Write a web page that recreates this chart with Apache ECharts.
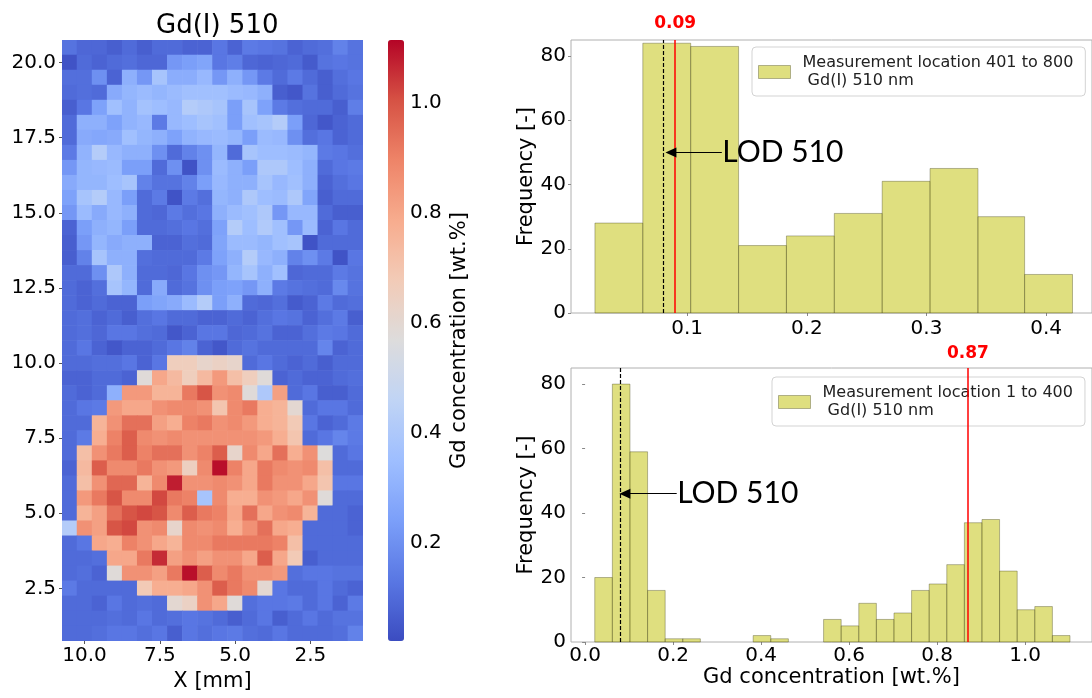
<!DOCTYPE html>
<html><head><meta charset="utf-8">
<script src="https://cdn.jsdelivr.net/npm/echarts@6/dist/echarts.min.js"></script>
<style>html,body{margin:0;padding:0;background:#fff}#c{width:1092px;height:698px}</style>
</head><body><div id="c"></div>
<script>
// ---------- data ----------
const xCenters = [10.5,10.0,9.5,9.0,8.5,8.0,7.5,7.0,6.5,6.0,5.5,5.0,4.5,4.0,3.5,3.0,2.5,2.0,1.5,1.0];
const yCenters = [20.5,20.0,19.5,19.0,18.5,18.0,17.5,17.0,16.5,16.0,15.5,15.0,14.5,14.0,13.5,13.0,12.5,12.0,11.5,11.0,
                  10.5,10.0,9.5,9.0,8.5,8.0,7.5,7.0,6.5,6.0,5.5,5.0,4.5,4.0,3.5,3.0,2.5,2.0,1.5,1.0];
// rows from top (y = 20.5) downwards, columns from x = 10.5 to x = 1.0
const gridLoc401to800 = [
[0.12,0.09,0.09,0.07,0.10,0.07,0.10,0.10,0.08,0.08,0.13,0.08,0.14,0.13,0.12,0.08,0.10,0.11,0.16,0.12],
[0.04,0.10,0.08,0.10,0.11,0.09,0.09,0.22,0.24,0.26,0.13,0.15,0.09,0.08,0.09,0.10,0.06,0.12,0.13,0.12],
[0.11,0.11,0.20,0.08,0.30,0.22,0.38,0.29,0.29,0.33,0.22,0.30,0.22,0.14,0.10,0.14,0.10,0.07,0.11,0.13],
[0.10,0.11,0.10,0.28,0.32,0.34,0.32,0.34,0.36,0.36,0.36,0.34,0.33,0.30,0.07,0.05,0.12,0.07,0.10,0.12],
[0.07,0.13,0.25,0.36,0.31,0.37,0.35,0.33,0.42,0.40,0.38,0.24,0.38,0.25,0.14,0.11,0.10,0.10,0.07,0.15],
[0.10,0.30,0.30,0.25,0.31,0.33,0.14,0.33,0.35,0.38,0.36,0.24,0.36,0.38,0.42,0.24,0.09,0.05,0.08,0.10],
[0.10,0.28,0.27,0.28,0.36,0.32,0.30,0.25,0.31,0.33,0.34,0.32,0.24,0.34,0.33,0.20,0.11,0.13,0.08,0.10],
[0.14,0.31,0.42,0.33,0.30,0.30,0.20,0.10,0.16,0.20,0.32,0.10,0.38,0.35,0.35,0.34,0.32,0.14,0.13,0.11],
[0.22,0.32,0.33,0.34,0.24,0.24,0.10,0.20,0.04,0.20,0.34,0.30,0.24,0.40,0.40,0.35,0.30,0.10,0.13,0.14],
[0.28,0.32,0.32,0.35,0.38,0.16,0.12,0.12,0.16,0.24,0.33,0.30,0.30,0.38,0.33,0.36,0.30,0.08,0.11,0.13],
[0.25,0.38,0.42,0.33,0.24,0.10,0.14,0.04,0.14,0.11,0.32,0.30,0.40,0.35,0.34,0.40,0.26,0.07,0.10,0.10],
[0.22,0.34,0.28,0.33,0.30,0.10,0.09,0.14,0.11,0.13,0.30,0.34,0.36,0.40,0.22,0.33,0.33,0.10,0.07,0.07],
[0.08,0.24,0.30,0.32,0.24,0.10,0.10,0.11,0.13,0.11,0.25,0.42,0.35,0.41,0.36,0.22,0.34,0.08,0.13,0.10],
[0.07,0.22,0.32,0.28,0.30,0.30,0.08,0.08,0.11,0.10,0.26,0.34,0.34,0.32,0.36,0.38,0.04,0.10,0.10,0.10],
[0.07,0.16,0.38,0.30,0.30,0.11,0.10,0.10,0.10,0.14,0.25,0.30,0.42,0.33,0.30,0.16,0.20,0.14,0.04,0.13],
[0.10,0.10,0.20,0.40,0.30,0.10,0.10,0.09,0.13,0.20,0.22,0.32,0.38,0.30,0.36,0.09,0.10,0.10,0.14,0.12],
[0.10,0.08,0.11,0.38,0.32,0.10,0.28,0.10,0.12,0.20,0.24,0.25,0.22,0.30,0.14,0.12,0.11,0.10,0.18,0.12],
[0.10,0.08,0.10,0.08,0.08,0.24,0.26,0.28,0.34,0.42,0.24,0.30,0.10,0.09,0.11,0.06,0.08,0.14,0.10,0.11],
[0.10,0.11,0.08,0.10,0.07,0.11,0.13,0.10,0.10,0.08,0.08,0.10,0.08,0.11,0.13,0.12,0.08,0.11,0.14,0.07],
[0.10,0.11,0.09,0.13,0.13,0.11,0.10,0.05,0.08,0.13,0.13,0.09,0.10,0.12,0.08,0.08,0.11,0.14,0.13,0.10]
];
const gridLoc1to400 = [
[0.10,0.13,0.08,0.05,0.08,0.08,0.10,0.13,0.16,0.08,0.05,0.10,0.12,0.10,0.10,0.10,0.10,0.17,0.08,0.10],
[0.10,0.10,0.11,0.11,0.13,0.08,0.13,0.66,0.66,0.62,0.64,0.62,0.10,0.13,0.10,0.08,0.10,0.07,0.10,0.10],
[0.08,0.08,0.10,0.10,0.08,0.58,0.80,0.74,0.66,0.74,0.84,0.72,0.66,0.58,0.08,0.10,0.08,0.08,0.10,0.11],
[0.10,0.08,0.10,0.30,0.84,0.84,0.76,0.76,0.92,1.00,0.86,0.88,0.58,0.40,0.82,0.10,0.13,0.07,0.07,0.10],
[0.10,0.13,0.14,0.84,0.80,0.80,0.86,0.88,0.88,0.86,0.70,0.88,0.92,0.78,0.76,0.60,0.10,0.13,0.13,0.10],
[0.10,0.10,0.76,0.86,0.94,0.94,0.82,0.78,0.90,0.92,0.86,0.88,0.84,0.78,0.76,0.68,0.13,0.08,0.10,0.14],
[0.10,0.14,0.78,0.90,0.98,0.88,0.86,0.88,0.86,0.86,0.86,0.86,0.86,0.84,0.78,0.70,0.10,0.13,0.17,0.14],
[0.10,0.72,0.86,0.92,0.98,0.90,0.94,0.94,0.86,0.90,0.98,0.62,0.88,0.80,0.94,0.78,0.86,0.57,0.10,0.13],
[0.08,0.74,0.98,0.88,0.88,0.92,0.86,0.84,0.65,0.88,1.10,0.90,0.80,0.92,0.88,0.86,0.88,0.72,0.10,0.10],
[0.10,0.72,0.86,0.96,0.96,0.76,0.88,1.08,0.86,0.86,0.88,0.86,0.80,0.92,0.86,0.86,0.80,0.70,0.13,0.13],
[0.10,0.84,0.92,1.00,0.88,0.88,1.02,0.92,0.90,0.38,0.88,0.78,0.78,0.86,0.84,0.80,0.86,0.58,0.10,0.10],
[0.10,0.76,0.82,0.94,1.00,1.02,1.00,0.88,0.98,0.92,0.90,0.80,0.94,0.80,0.86,0.88,0.76,0.10,0.10,0.08],
[0.42,0.86,0.82,1.00,1.02,0.86,0.88,0.62,0.88,0.86,0.88,0.78,0.86,0.94,0.80,0.78,0.10,0.10,0.10,0.08],
[0.10,0.13,0.80,0.78,0.90,0.86,0.80,0.76,0.88,0.88,0.92,0.92,0.92,0.92,0.90,0.72,0.10,0.10,0.10,0.10],
[0.10,0.10,0.11,0.80,0.80,0.92,1.06,0.82,0.86,0.82,0.86,0.86,0.80,0.98,0.80,0.68,0.07,0.10,0.10,0.10],
[0.10,0.11,0.08,0.58,0.86,0.86,0.82,0.92,1.10,0.98,0.88,0.92,0.86,0.86,0.84,0.11,0.13,0.13,0.12,0.12],
[0.14,0.10,0.10,0.10,0.10,0.68,0.78,0.78,0.80,0.86,0.98,0.92,0.88,0.60,0.13,0.10,0.10,0.13,0.10,0.08],
[0.10,0.10,0.08,0.13,0.10,0.11,0.10,0.60,0.64,0.86,0.80,0.58,0.11,0.13,0.13,0.14,0.10,0.13,0.08,0.14],
[0.10,0.10,0.10,0.11,0.10,0.13,0.10,0.11,0.13,0.12,0.10,0.07,0.10,0.13,0.07,0.10,0.13,0.10,0.12,0.12],
[0.10,0.10,0.11,0.13,0.13,0.11,0.13,0.07,0.13,0.11,0.13,0.14,0.11,0.10,0.13,0.10,0.10,0.10,0.11,0.16]
];
const mapXTicks = [10.0, 7.5, 5.0, 2.5];
const mapYTicks = [20.0, 17.5, 15.0, 12.5, 10.0, 7.5, 5.0, 2.5];
const cbarTicks = [0.2, 0.4, 0.6, 0.8, 1.0];
const cbarMin = 0.022, cbarMax = 1.115;

const topBinEdges = [0.023,0.063,0.103,0.143,0.183,0.223,0.263,0.303,0.343,0.382,0.422];
const topCounts   = [28,84,83,21,24,31,41,45,30,12];
const botBinEdges = [0.022,0.062,0.102,0.142,0.182,0.222,0.262,0.302,0.342,0.382,0.422,0.462,0.502,0.542,
                     0.582,0.622,0.662,0.702,0.742,0.782,0.822,0.862,0.902,0.942,0.982,1.022,1.062,1.102];
const botCounts   = [20,80,59,16,1,1,0,0,0,2,1,0,0,7,5,12,7,9,16,18,24,37,38,22,10,11,2];
const topHistTicks = [0.1, 0.2, 0.3, 0.4];
const botHistTicks = [0.0, 0.2, 0.4, 0.6, 0.8, 1.0];
const lodValue = 0.084;
const topMarker = 0.09, botMarker = 0.87;
const topName = 'Measurement location 401 to 800\n Gd(I) 510 nm';
const botName = 'Measurement location 1 to 400\n Gd(I) 510 nm';

// ---------- build ----------
const allRows = gridLoc401to800.concat(gridLoc1to400);
const mapData = [];
allRows.forEach((row, r) => row.forEach((v, c) => mapData.push([xCenters[c], yCenters[r], v])));
const histData = (edges, counts) => counts.map((n, i) => [edges[i], edges[i + 1], n]).filter(d => d[2] > 0);

const coolwarm = ['#3b4cc0','#5977e3','#7b9ff9','#9ebeff','#c0d4f5','#dddcdc','#f2cbb7','#f7ac8e','#ee8468','#d65244','#b40426'];
const FONT = 'DejaVu Sans';
const barFill = 'rgba(191,191,0,0.5)';
const barEdge = 'rgba(70,70,35,0.38)';

function histRender(params, api) {
  const p0 = api.coord([api.value(0), api.value(2)]);
  const p1 = api.coord([api.value(1), 0]);
  return {type: 'rect', shape: {x: p0[0], y: p0[1], width: p1[0] - p0[0], height: p1[1] - p0[1]},
          style: {fill: barFill, stroke: barEdge, lineWidth: 1}};
}
const tickLabel = {fontFamily: FONT, fontSize: 20, color: '#000'};
const fmt1 = v => Number(v).toFixed(1);

function histMarks(marker, markerLabel, arrowY, textX, tipX, labelDist) {
  return {
    markLine: {
      silent: true, animation: false, symbol: ['none', 'none'],
      data: [
        {xAxis: lodValue, lineStyle: {color: '#000', type: [4, 2], width: 1.2}, label: {show: false}},
        {xAxis: marker, lineStyle: {color: '#ff0000', type: 'solid', width: 1.5},
         label: {show: true, position: 'end', formatter: markerLabel, color: '#ff0000', fontWeight: 'bold',
                 fontSize: 17, fontFamily: FONT, distance: labelDist}},
        [{coord: [textX, arrowY], symbol: 'none', lineStyle: {color: '#000', type: 'solid', width: 1.2}, label: {show: false}},
         {coord: [tipX, arrowY], symbol: 'triangle', symbolSize: [10, 11], lineStyle: {color: '#000', type: 'solid', width: 1.2}, label: {show: false}}]
      ]
    },
    markPoint: {
      silent: true, animation: false,
      data: [{coord: [textX, arrowY], symbol: 'circle', symbolSize: 1, itemStyle: {color: 'rgba(0,0,0,0)'},
              label: {show: true, position: 'right', distance: 0, formatter: 'LOD 510', fontSize: 30,
                      fontFamily: 'Lato', color: '#000'}}]
    }
  };
}

const legendBase = {
  orient: 'vertical', icon: 'rect', itemWidth: 32, itemHeight: 13, selectedMode: false,
  padding: [7, 12, 6, 6], backgroundColor: 'rgba(255,255,255,0.8)', borderColor: '#d3d3d3',
  borderWidth: 1, borderRadius: 4,
  itemStyle: {color: barFill, borderColor: barEdge, borderWidth: 1},
  textStyle: {fontFamily: FONT, fontSize: 16, lineHeight: 18, color: '#222', padding: [0, 0, 0, 7]}
};

const option = {
  animation: false,
  backgroundColor: '#fff',
  title: {text: 'Gd(I) 510', left: 151, top: 8, textStyle: {fontFamily: FONT, fontSize: 26, fontWeight: 'normal', color: '#000'}},
  legend: [
    Object.assign({}, legendBase, {data: [topName], left: 752, top: 47}),
    Object.assign({}, legendBase, {data: [botName], left: 772, top: 377})
  ],
  visualMap: {
    type: 'continuous', show: true, seriesIndex: 0, dimension: 2, min: cbarMin, max: cbarMax,
    left: 388, top: 40, itemWidth: 16, itemHeight: 601, padding: 0, calculable: false, text: null,
    hoverLink: false, inRange: {color: coolwarm}
  },
  grid: [
    {left: 62, top: 40, width: 301, height: 601},
    {left: 388, top: 40, width: 16, height: 601},
    {left: 571, top: 40, width: 521, height: 273, show: true, borderColor: '#b0b0b0', borderWidth: 1},
    {left: 571, top: 368, width: 521, height: 274, show: true, borderColor: '#b0b0b0', borderWidth: 1}
  ],
  xAxis: [
    {gridIndex: 0, type: 'value', min: 0.75, max: 10.75, inverse: true,
     name: 'X [mm]', nameLocation: 'middle', nameGap: 26, nameTextStyle: {fontFamily: FONT, fontSize: 21, color: '#000'},
     axisLine: {show: false}, splitLine: {show: false},
     axisTick: {show: true, length: 3, customValues: mapXTicks, lineStyle: {color: '#555'}},
     axisLabel: Object.assign({customValues: mapXTicks, formatter: fmt1, margin: 5}, tickLabel)},
    {gridIndex: 1, type: 'value', min: 0, max: 1, show: false},
    {gridIndex: 2, type: 'value', min: 0.003, max: 0.4383,
     axisLine: {show: false}, splitLine: {show: false},
     axisTick: {show: true, length: 3, customValues: topHistTicks, lineStyle: {color: '#888'}},
     axisLabel: Object.assign({customValues: topHistTicks, formatter: fmt1, margin: 6}, tickLabel)},
    {gridIndex: 3, type: 'value', min: -0.032, max: 1.152,
     name: 'Gd concentration [wt.%]', nameLocation: 'middle', nameGap: 24, nameTextStyle: {fontFamily: FONT, fontSize: 21, color: '#000'},
     axisLine: {show: false}, splitLine: {show: false},
     axisTick: {show: true, length: 3, customValues: botHistTicks, lineStyle: {color: '#888'}},
     axisLabel: Object.assign({customValues: botHistTicks, formatter: fmt1, margin: 4}, tickLabel)}
  ],
  yAxis: [
    {gridIndex: 0, type: 'value', min: 0.75, max: 20.75,
     axisLine: {show: false}, splitLine: {show: false},
     axisTick: {show: true, length: 3, customValues: mapYTicks, lineStyle: {color: '#555'}},
     axisLabel: Object.assign({customValues: mapYTicks, formatter: fmt1, margin: 6}, tickLabel)},
    {gridIndex: 1, type: 'value', min: cbarMin, max: cbarMax, position: 'right',
     name: 'Gd concentration [wt.%]', nameLocation: 'middle', nameRotate: 90, nameGap: 45,
     nameTextStyle: {fontFamily: FONT, fontSize: 21, color: '#000'},
     axisLine: {show: false}, splitLine: {show: false},
     axisTick: {show: true, length: 4, customValues: cbarTicks, lineStyle: {color: '#555'}},
     axisLabel: Object.assign({customValues: cbarTicks, formatter: fmt1, margin: 6}, tickLabel)},
    {gridIndex: 2, type: 'value', min: 0, max: 85, interval: 20,
     name: 'Frequency [-]', nameLocation: 'middle', nameGap: 30, nameTextStyle: {fontFamily: FONT, fontSize: 21, color: '#000'},
     axisLine: {show: false}, splitLine: {show: false},
     axisTick: {show: true, length: 3, lineStyle: {color: '#888'}},
     axisLabel: Object.assign({margin: 5}, tickLabel)},
    {gridIndex: 3, type: 'value', min: 0, max: 85, interval: 20,
     name: 'Frequency [-]', nameLocation: 'middle', nameGap: 30, nameTextStyle: {fontFamily: FONT, fontSize: 21, color: '#000'},
     axisLine: {show: false}, splitLine: {show: false},
     axisTick: {show: true, length: 3, lineStyle: {color: '#888'}},
     axisLabel: Object.assign({margin: 5}, tickLabel)}
  ],
  series: [
    {type: 'custom', name: 'map', xAxisIndex: 0, yAxisIndex: 0, data: mapData, clip: true,
     encode: {x: 0, y: 1}, silent: true,
     renderItem(params, api) {
       const c = api.coord([api.value(0), api.value(1)]);
       const s = api.size([0.5, 0.5]);
       const w = Math.abs(s[0]), h = Math.abs(s[1]);
       return {type: 'rect', shape: {x: c[0] - w / 2 - 0.3, y: c[1] - h / 2 - 0.3, width: w + 0.6, height: h + 0.6},
               style: {fill: api.visual('color')}};
     }},
    Object.assign({type: 'custom', name: topName, xAxisIndex: 2, yAxisIndex: 2, data: histData(topBinEdges, topCounts),
     encode: {x: [0, 1], y: 2}, itemStyle: {color: barFill}, renderItem: histRender, silent: true},
     histMarks(topMarker, '0.09', 50, 0.129, 0.0865, 8)),
    Object.assign({type: 'custom', name: botName, xAxisIndex: 3, yAxisIndex: 3, data: histData(botBinEdges, botCounts),
     encode: {x: [0, 1], y: 2}, itemStyle: {color: barFill}, renderItem: histRender, silent: true},
     histMarks(botMarker, '0.87', 46, 0.2082, 0.0905, 6))
  ]
};
const chart = echarts.init(document.getElementById('c'), null, {renderer: 'canvas'});
chart.setOption(option);
</script></body></html>
